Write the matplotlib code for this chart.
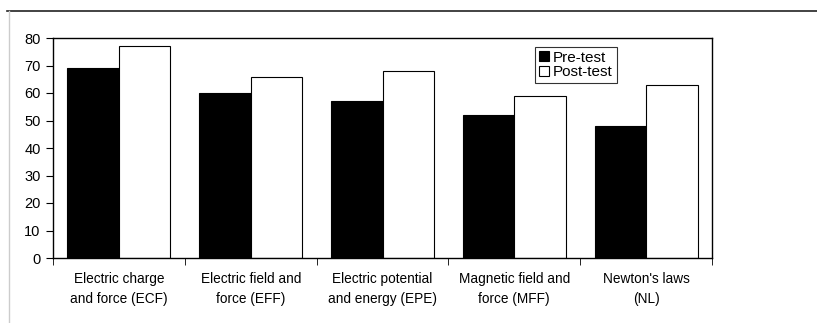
import matplotlib.pyplot as plt
import numpy as np

plt.rcParams['font.family'] = ['Liberation Sans', 'DejaVu Sans']

categories = ['Electric charge\nand force (ECF)', 'Electric field and\nforce (EFF)',
              'Electric potential\nand energy (EPE)', 'Magnetic field and\nforce (MFF)',
              "Newton's laws\n(NL)"]
pre_test = [69, 60, 57, 52, 48]
post_test = [77, 66, 68, 59, 63]

fig = plt.figure(figsize=(8.17, 3.23), dpi=100)
ax = fig.add_axes([53 / 817, 1 - 258 / 323, 659 / 817, 220 / 323])

x = np.arange(len(categories))
w = 0.39
ax.bar(x - w / 2, pre_test, w, color='black', edgecolor='black', linewidth=0.8, label='Pre-test')
ax.bar(x + w / 2, post_test, w, color='white', edgecolor='black', linewidth=0.8, label='Post-test')

ax.set_xlim(-0.5, len(categories) - 0.5)
ax.set_ylim(0, 80)
ax.set_yticks(range(0, 81, 10))
ax.tick_params(axis='y', labelsize=10.5, length=5, direction='out', pad=4)

# category labels centred, tick marks on the boundaries
ax.set_xticks(x)
ax.set_xticklabels(categories, fontsize=9.8, linespacing=1.6)
ax.tick_params(axis='x', which='major', length=0, pad=10)
ax.set_xticks(np.arange(-0.5, len(categories)), minor=True)
ax.tick_params(axis='x', which='minor', length=5, direction='out')

for s in ax.spines.values():
    s.set_linewidth(1.0)
    s.set_color('black')

leg = ax.legend(loc='upper left', bbox_to_anchor=(0.732, 0.96), fontsize=11,
                frameon=True, fancybox=False, edgecolor='black', handlelength=0.65,
                handleheight=0.65, handletextpad=0.25, borderpad=0.25, labelspacing=0.05,
                borderaxespad=0)
leg.get_frame().set_linewidth(0.8)

# outer frame lines of the original figure
fig.add_artist(plt.Line2D([7 / 817, 1], [1 - 11 / 323] * 2, color='#222222', lw=1.2))
fig.add_artist(plt.Line2D([9 / 817] * 2, [0, 1 - 11 / 323], color='#cccccc', lw=1.0))

fig.savefig('out.png', dpi=100)
